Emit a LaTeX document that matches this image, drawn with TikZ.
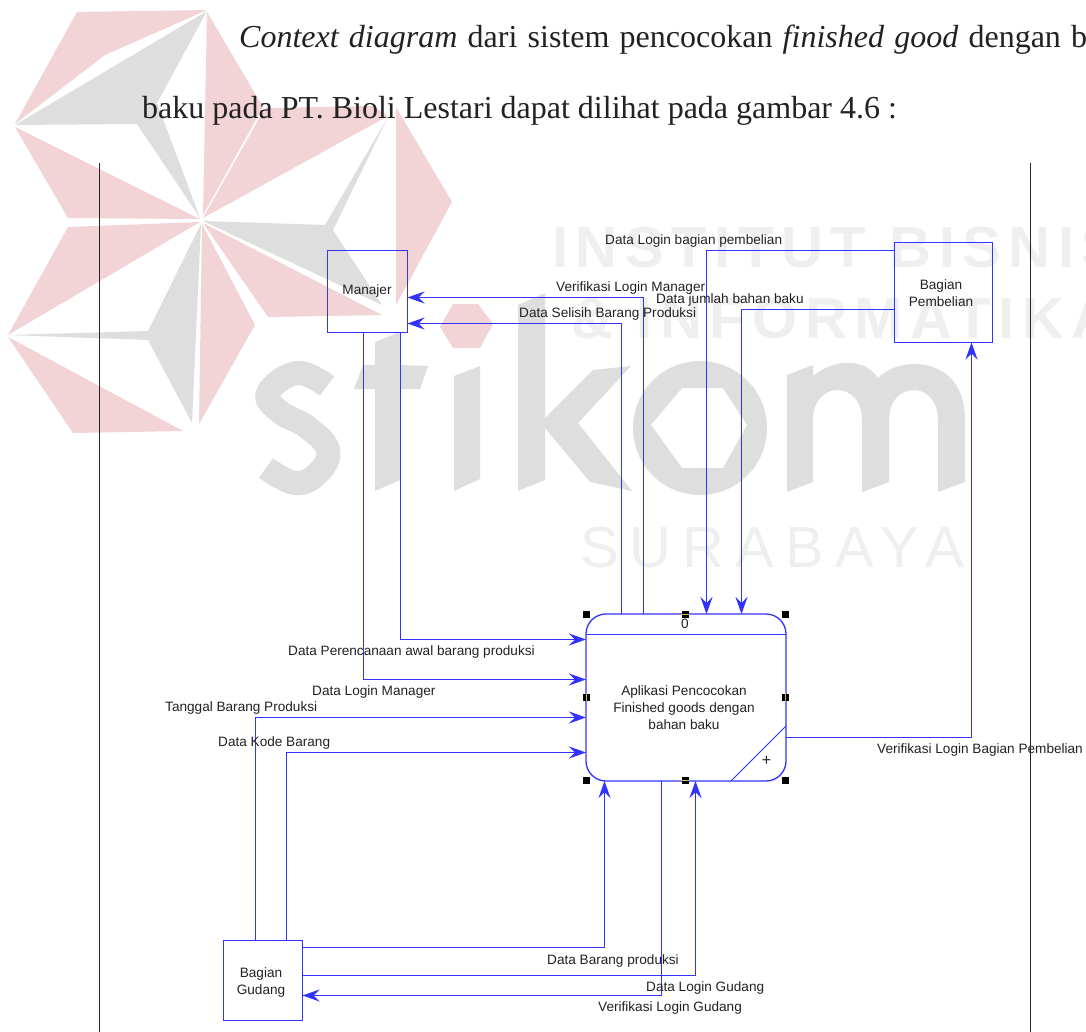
\documentclass[tikz,border=0pt]{standalone}
\usepackage{fontspec}
\setmainfont{Liberation Serif}
\newfontfamily\arial{Liberation Sans}
\newfontfamily\wmfont[LetterSpace=13]{Liberation Sans}
\newfontfamily\wmfontb[LetterSpace=19]{Liberation Sans}
\usetikzlibrary{arrows.meta}
\definecolor{wpink}{HTML}{F2D3D6}
\definecolor{wgrey}{HTML}{DEDEDE}
\definecolor{wtext}{HTML}{EFEFEF}
\definecolor{dfd}{HTML}{3333FF}
\definecolor{ink}{HTML}{222222}
\tikzset{
  x=1pt,y=-1pt,
  flow/.style={draw=dfd,line width=1.3pt},
  flowin/.style={flow,-{Stealth[length=17pt,width=12pt,inset=6pt]}},
  entity/.style={draw=dfd,line width=1.3pt,rectangle,inner sep=0pt,outer sep=0pt},
  lab/.style={font=\arial\fontsize{13.6}{16}\selectfont,text=ink,inner sep=0pt,anchor=base west},
  boxlab/.style={font=\arial\fontsize{13.6}{17}\selectfont,text=ink,inner sep=0pt,align=center},
  body/.style={font=\fontsize{32}{36}\selectfont,text=ink,inner sep=0pt,anchor=base west},
  handle/.style={fill=black,minimum size=7pt,inner sep=0pt,rectangle},
  wmark/.style={font=\wmfont\bfseries\fontsize{58}{60}\selectfont,text=wtext,inner sep=0pt,anchor=base west},
  wmarkb/.style={font=\wmfontb\fontsize{58}{60}\selectfont,text=wtext,inner sep=0pt,anchor=base west},
  sheet/.style={draw=black!85,line width=0.9pt},
  grip/.style={draw=yellow!75!black,line width=0.8pt}
}
\begin{document}
\begin{tikzpicture}
\useasboundingbox (0,0) rectangle (1086,1032);
\fill[white] (0,0) rectangle (1086,1032);
\begin{scope}
\clip (0,0) rectangle (1086,1032);
% watermark emblem
\fill[wpink] (77,12) -- (207,10) -- (105,55) -- (15,124) -- cycle;
\fill[wgrey] (207,11) -- (15,125) -- (137,124) -- (200,218) -- (157,103) -- cycle;
\fill[wpink] (207,12) -- (263,107) -- (203,215) -- cycle;
\fill[wpink] (265,108) -- (373,106) -- (388,116) -- (203,218) -- cycle;
\fill[wpink] (396,107) -- (452,202) -- (396,305) -- cycle;
\fill[wgrey] (388,117) -- (325,225) -- (203,221) -- (382,305) -- (333,230) -- cycle;
\fill[wpink] (203,223) -- (382,315) -- (268,317) -- cycle;
\fill[wpink] (15,127) -- (68,218) -- (200,219) -- cycle;
\fill[wpink] (68,227) -- (200,222) -- (8,335) -- cycle;
\fill[wgrey] (201,224) -- (148,331) -- (8,335) -- (148,340) -- (192,423) -- cycle;
\fill[wpink] (8,337) -- (73,433) -- (183,431) -- cycle;
\fill[wpink] (202,224) -- (255,325) -- (199,424) -- cycle;
\fill[wpink] (440,327) -- (453,304) -- (478,304) -- (493,324) -- (480,348) -- (453,348) -- cycle;
% watermark wordmark
\draw[wgrey,line width=24pt] plot[smooth,tension=0.7] coordinates {(327,386) (297,373) (268,393) (280,412) (307,427) (328,450) (318,473) (295,483) (266,468)};
\fill[wgrey] (375,342) -- (400,332) -- (400,365) -- (428,366) -- (420,389) -- (400,389) -- (400,480) -- (375,491) -- (375,389) -- (354,389) -- (363,365) -- (375,365) -- cycle;
\fill[wgrey] (454,376) -- (480,366) -- (480,479) -- (454,491) -- cycle;
\fill[wgrey] (518,305) -- (545,293) -- (545,418) -- (593,370) -- (631,366) -- (578,423) -- (632,491) -- (590,482) -- (545,428) -- (545,480) -- (518,491) -- cycle;
\fill[wgrey,even odd rule] (700,428) circle[x radius=67,y radius=67] (651,425) -- (682,388) -- (723,388) -- (747,425) -- (723,468) -- (682,468) -- cycle;
\fill[wgrey] (787,375) -- (813,365) -- (813,376) .. controls (835,358) and (865,358) .. (878,378) .. controls (900,355) and (965,355) .. (965,420) -- (965,482) -- (938,492) -- (938,420) .. controls (938,380) and (889,380) .. (889,420) -- (889,482) -- (862,492) -- (862,420) .. controls (862,380) and (813,380) .. (813,420) -- (813,482) -- (787,492) -- cycle;
\node[wmark] (wm1) at (552,267) {INSTITUT BISNIS};
\node[wmark] (wm2) at (571,338) {\& INFORMATIKA};
\node[wmarkb] (wm3) at (580,567) {SURABAYA};
\end{scope}
% body text
\node[body] (t1) at (239,47.5) {\spaceskip=0.32em\itshape Context diagram \upshape dari sistem pencocokan \itshape finished good \upshape dengan b};
\node[body] (t2) at (142,119) {baku pada PT. Bioli Lestari dapat dilihat pada gambar 4.6 :};
% sheet borders
\coordinate (sl1) at (99.5,163); \coordinate (sl2) at (99.5,1032);
\coordinate (sr1) at (1030.5,163); \coordinate (sr2) at (1030.5,1032);
\draw[sheet] (sl1) -- (sl2);
\draw[sheet] (sr1) -- (sr2);
% entities
\node[entity,minimum width=80pt,minimum height=82pt] (man) at (367.5,291.5) {};
\node[entity,minimum width=98pt,minimum height=100pt] (pem) at (943.5,292.5) {};
\node[entity,minimum width=79pt,minimum height=80pt] (gud) at (263,980.5) {};
\node[boxlab] (manl) at (367,291) {Manajer};
\node[boxlab] (peml) at (941,293.5) {Bagian\\Pembelian};
\node[boxlab] (gudl) at (261,982) {Bagian\\Gudang};
% process
\node[entity,rounded corners=20pt,minimum width=200pt,minimum height=167pt] (proc) at (686,697.5) {};
\draw[flow] (proc.west |- 0,634.5) -- (proc.east |- 0,634.5);
\draw[flow,line width=0.9pt] (proc.east |- 0,726) -- (proc.south -| 731,0);
\node[boxlab] (procno) at (685,624) {0};
\node[boxlab] (procl) at (684,707.5) {Aplikasi Pencocokan\\Finished goods dengan\\bahan baku};
\node[inner sep=0pt,font=\arial\fontsize{16}{16}\selectfont,text=ink] (plus) at (766.5,761) {+};
% handles
\foreach \n/\xx/\yy in {h1/586/614,h2/685/614,h3/785/614,h4/586/697,h5/785/697,h6/586/780,h7/685/780,h8/785/780}
  \node[handle] (\n) at (\xx,\yy) {};
\draw[grip] (h2.west) -- (h2.east);
\draw[grip] (h7.west) -- (h7.east);
\draw[grip] (h4.north) -- (h4.south);
\draw[grip] (h5.north) -- (h5.south);
% connectors
\draw[flowin] (man.south -| 400.5,0) -- (400.5,639.5) -- (proc.west |- 0,639.5);
\draw[flowin] (man.south -| 363.5,0) -- (363.5,679.5) -- (proc.west |- 0,679.5);
\draw[flowin] (gud.north -| 255.5,0) -- (255.5,717.5) -- (proc.west |- 0,717.5);
\draw[flowin] (gud.north -| 286.5,0) -- (286.5,752.5) -- (proc.west |- 0,752.5);
\draw[flowin] (proc.north -| 621.5,0) -- (621.5,323.5) -- (man.east |- 0,323.5);
\draw[flowin] (proc.north -| 643.5,0) -- (643.5,297.5) -- (man.east |- 0,297.5);
\draw[flowin] (pem.west |- 0,250.5) -- (706.5,250.5) -- (proc.north -| 706.5,0);
\draw[flowin] (pem.west |- 0,309.5) -- (741.5,309.5) -- (proc.north -| 741.5,0);
\draw[flowin] (proc.east |- 0,737.5) -- (971.5,737.5) -- (pem.south -| 971.5,0);
\draw[flowin] (gud.east |- 0,947.5) -- (604.5,947.5) -- (proc.south -| 604.5,0);
\draw[flowin] (gud.east |- 0,975.5) -- (695.5,975.5) -- (proc.south -| 695.5,0);
\draw[flowin] (proc.south -| 661.5,0) -- (661.5,995.5) -- (gud.east |- 0,995.5);
% connector labels
\node[lab] (l1) at (605,244) {Data Login bagian pembelian};
\node[lab] (l2) at (556,291.5) {Verifikasi Login Manager};
\node[lab] (l3) at (656,303.5) {Data jumlah bahan baku};
\node[lab] (l4) at (519,317.5) {Data Selisih Barang Produksi};
\node[lab] (l5) at (288,655) {Data Perencanaan awal barang produksi};
\node[lab] (l6) at (312,695) {Data Login Manager};
\node[lab] (l7) at (165,711) {Tanggal Barang Produksi};
\node[lab] (l8) at (218,746) {Data Kode Barang};
\node[lab] (l9) at (877,753.5) {Verifikasi Login Bagian Pembelian};
\node[lab] (l10) at (547,964) {Data Barang produksi};
\node[lab] (l11) at (646,991) {Data Login Gudang};
\node[lab] (l12) at (598,1011) {Verifikasi Login Gudang};
\end{tikzpicture}
\end{document}
